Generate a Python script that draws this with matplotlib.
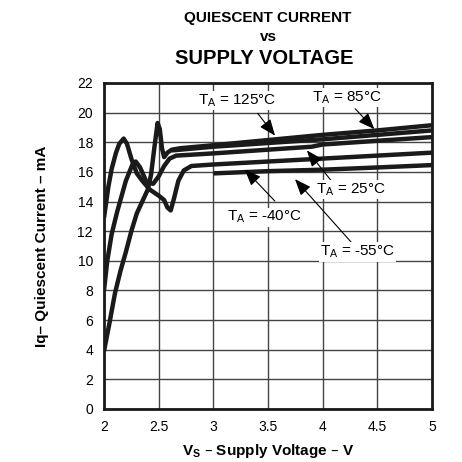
import matplotlib
matplotlib.use('Agg')
import matplotlib.pyplot as plt

plt.rcParams['font.family'] = ['Liberation Sans', 'DejaVu Sans']
plt.rcParams['mathtext.default'] = 'regular'

# curves (V, mA)
v_125 = [2.0, 2.05, 2.1, 2.15, 2.2, 2.25, 2.3, 2.35, 2.4, 2.43, 2.46, 2.49, 2.51, 2.53, 2.55, 2.58, 2.62, 2.7, 3.0, 3.5, 4.0, 4.5, 5.0]
i_125 = [3.9, 5.8, 7.8, 9.3, 10.6, 12.0, 13.2, 14.0, 14.8, 15.8, 17.6, 19.3, 18.9, 17.6, 17.0, 17.3, 17.5, 17.6, 17.8, 18.15, 18.5, 18.8, 19.15]
v_85 = [2.62, 3.0, 3.5, 4.0, 4.5, 5.0]
i_85 = [17.45, 17.7, 17.95, 18.2, 18.5, 18.8]
v_25 = [2.0, 2.03, 2.07, 2.12, 2.2, 2.26, 2.29, 2.33, 2.39, 2.45, 2.5, 2.55, 2.6, 2.66, 3.0, 3.5, 3.9, 4.0, 4.5, 5.0]
i_25 = [8.0, 10.0, 11.8, 13.3, 15.4, 16.5, 16.7, 16.3, 15.3, 15.2, 15.7, 16.4, 16.9, 17.1, 17.25, 17.5, 17.7, 17.85, 18.1, 18.35]
v_m40 = [2.0, 2.04, 2.07, 2.11, 2.14, 2.18, 2.21, 2.25, 2.3, 2.35, 2.42, 2.5, 2.55, 2.58, 2.61, 2.64, 2.68, 2.73, 2.8, 3.0, 3.5, 4.0, 4.5, 5.0]
i_m40 = [12.9, 15.0, 16.2, 17.3, 17.9, 18.25, 17.9, 16.9, 15.9, 15.4, 14.8, 14.4, 14.1, 13.6, 13.4, 14.2, 15.4, 16.1, 16.4, 16.5, 16.7, 16.9, 17.1, 17.3]
v_m55 = [3.0, 3.5, 4.0, 4.5, 5.0]
i_m55 = [15.9, 16.05, 16.15, 16.3, 16.46]

labels = ['T$_A$ = 125°C', 'T$_A$ = 85°C', 'T$_A$ = 25°C', 'T$_A$ = -40°C', 'T$_A$ = -55°C']
label_xy = [(3.22, 20.8), (4.22, 21.0), (4.26, 14.8), (3.47, 12.95), (4.32, 10.6)]
arrow_from = [(3.39, 20.1), (4.28, 20.4), (4.09, 15.3), (3.58, 13.9), (4.28, 11.1)]
arrow_to = [(3.58, 18.3), (4.49, 18.75), (3.84, 17.6), (3.27, 16.3), (3.73, 15.65)]

fig = plt.figure(figsize=(4.62, 4.62), dpi=100)
ax = fig.add_axes([104 / 462, 53 / 462, 328 / 462, 326 / 462])

for xs, ys in [(v_125, i_125), (v_85, i_85), (v_25, i_25), (v_m40, i_m40), (v_m55, i_m55)]:
    ax.plot(xs, ys, color='#1a1a1a', lw=3.2, solid_joinstyle='round', solid_capstyle='butt', zorder=3)

for txt, (lx, ly), (fx, fy), (tx, ty) in zip(labels, label_xy, arrow_from, arrow_to):
    ax.annotate('', xy=(tx, ty), xytext=(fx, fy),
                arrowprops=dict(arrowstyle='-|>,head_length=1.0,head_width=0.4', color='black', lw=0.8), zorder=4)
    ax.text(lx, ly, txt, ha='center', va='center', fontsize=11,
            bbox=dict(facecolor='white', edgecolor='none', pad=1), zorder=5)

ax.set_xlim(2, 5)
ax.set_ylim(0, 22)
ax.set_xticks([2, 2.5, 3, 3.5, 4, 4.5, 5])
ax.set_xticklabels(['2', '2.5', '3', '3.5', '4', '4.5', '5'])
ax.set_yticks(range(0, 23, 2))
ax.tick_params(length=0, labelsize=10, pad=8)
ax.grid(True, color='#444444', lw=1)
ax.set_axisbelow(True)
for s in ax.spines.values():
    s.set_linewidth(2)
    s.set_color('#1a1a1a')

ax.set_xlabel('V$_S$ – Supply Voltage – V', fontsize=11, fontweight='bold', labelpad=6)
ax.set_ylabel('Iq– Quiescent Current – mA', fontsize=11, fontweight='bold', labelpad=20)

fig.text(0.58, 1 - 18 / 462, 'QUIESCENT CURRENT', ha='center', va='center', fontsize=11, fontweight='bold')
fig.text(0.58, 1 - 37 / 462, 'vs', ha='center', va='center', fontsize=11, fontweight='bold')
fig.text(0.572, 1 - 58 / 462, 'SUPPLY VOLTAGE', ha='center', va='center', fontsize=14.5, fontweight='bold')

fig.savefig('out.png', dpi=100, facecolor='white')
